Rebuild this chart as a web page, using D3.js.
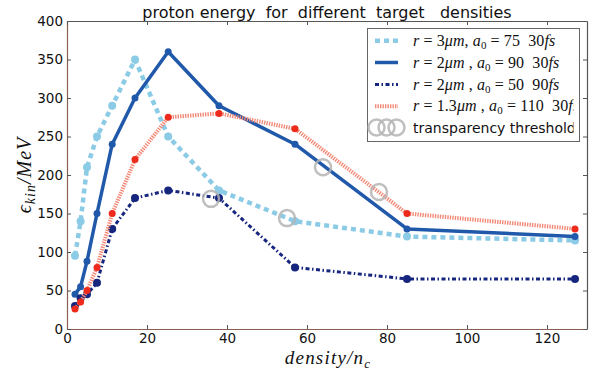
<!DOCTYPE html>
<html>
<head>
<meta charset="utf-8">
<script src="https://cdn.jsdelivr.net/npm/d3@7"></script>
<style>
  html, body { margin: 0; padding: 0; background: #fff; }
  svg text { white-space: pre; }
</style>
</head>
<body>
<svg id="chart" width="596" height="372"></svg>
<script>
// density of the target in units of the critical density
const densities = [2, 3.4, 5, 7.5, 11.3, 17, 25.3, 38, 57, 85, 127];

// maximum proton kinetic energy (MeV) for each laser / spot configuration
const r3_a75_30fs  = [95, 140, 210, 250, 290, 350, 250, 180, 140, 120, 115];
const r2_a90_30fs  = [45, 55, 88, 150, 240, 300, 360, 290, 240, 130, 120];
const r2_a50_90fs  = [30, 40, 45, 60, 130, 170, 180, 170, 80, 65, 65];
const r13_a110_30fs = [26, 35, 50, 80, 150, 220, 275, 280, 260, 150, 130];

// onset of relativistic transparency for each configuration
const thresholdDensity = [36, 55, 64, 78];
const thresholdEnergy  = [169, 144, 210, 178];

const xTicks = [0, 20, 40, 60, 80, 100, 120];
const yTicks = [0, 50, 100, 150, 200, 250, 300, 350, 400];

const titleText = "proton energy  for  different  target   densities";

const svg = d3.select("#chart");
const x = d3.scaleLinear().domain([0, 130]).range([67, 587]);
const y = d3.scaleLinear().domain([0, 400]).range([329, 21]);

// series definitions: data + style
const series = [
  { values: r3_a75_30fs, line: "#8ccbe6", marker: "#8ccbe6", width: 4.5, dash: "5,4", r: 4,
    label: [["r","i"],[" = ","n"],["3","n"],["μm","i"],[", ","n"],["a","i"],["0","s"],[" = ","n"],["75","n"],["  ","n"],["30","n"],["fs","i"]] },
  { values: r2_a90_30fs, line: "#2159aa", marker: "#2159aa", width: 3.5, dash: null, r: 3.5,
    label: [["r","i"],[" = ","n"],["2","n"],["μm","i"],[" , ","n"],["a","i"],["0","s"],[" = ","n"],["90","n"],["  ","n"],["30","n"],["fs","i"]] },
  { values: r2_a50_90fs, line: "#16267e", marker: "#16267e", width: 3, dash: "4,2.5,1.5,2.5", r: 4,
    label: [["r","i"],[" = ","n"],["2","n"],["μm","i"],[" , ","n"],["a","i"],["0","s"],[" = ","n"],["50","n"],["  ","n"],["90","n"],["fs","i"]] },
  { values: r13_a110_30fs, line: "#f38a78", marker: "#ee2a1c", width: 4, dash: "1.4,1.1", r: 3.5,
    label: [["r","i"],[" = ","n"],["1.3","n"],["μm","i"],[" , ","n"],["a","i"],["0","s"],[" = ","n"],["110","n"],["  ","n"],["30","n"],["fs","i"]] }
];

// axes (ticks pointing inward on all four sides)
const tickColor = "#555";
const axB = svg.append("g").attr("transform", `translate(0,${y(0)})`)
  .call(d3.axisBottom(x).tickValues(xTicks).tickSize(-4).tickSizeOuter(0).tickPadding(4));
const axL = svg.append("g").attr("transform", `translate(${x(0)},0)`)
  .call(d3.axisLeft(y).tickValues(yTicks).tickSize(-4).tickSizeOuter(0).tickPadding(4));
const axT = svg.append("g").attr("transform", `translate(0,${y(400)})`)
  .call(d3.axisTop(x).tickValues(xTicks).tickSize(-4).tickSizeOuter(0).tickFormat(""));
const axR = svg.append("g").attr("transform", `translate(${x(130)},0)`)
  .call(d3.axisRight(y).tickValues(yTicks).tickSize(-4).tickSizeOuter(0).tickFormat(""));

[axB, axL].forEach(a => {
  a.selectAll("text").attr("font-family", "DejaVu Sans").attr("font-size", 13.5).attr("fill", "#111");
  a.select(".domain").attr("stroke", "#8a6055").attr("stroke-width", 1.2);
});
[axT, axR].forEach(a => a.select(".domain").attr("stroke", "#5a5555").attr("stroke-width", 1.2));
[axB, axL, axT, axR].forEach(a => a.selectAll(".tick line").attr("stroke", tickColor));

// title
svg.append("text").attr("x", 327).attr("y", 18).attr("text-anchor", "middle")
  .attr("font-family", "DejaVu Sans").attr("font-size", 16).attr("fill", "#111")
  .text(titleText);

// axis labels (math style)
const xl = svg.append("text").attr("x", 328).attr("y", 364).attr("text-anchor", "middle")
  .attr("font-family", "Liberation Serif, DejaVu Serif").attr("font-size", 19).attr("font-style", "italic")
  .attr("letter-spacing", 1.2).attr("fill", "#111");
xl.append("tspan").text("density/n");
xl.append("tspan").attr("font-size", 13).attr("dy", 4).text("c");

const yl = svg.append("text").attr("transform", "translate(31,175) rotate(-90)").attr("text-anchor", "middle")
  .attr("font-family", "Liberation Serif, DejaVu Serif").attr("font-size", 20).attr("font-style", "italic")
  .attr("letter-spacing", 1).attr("fill", "#111");
yl.append("tspan").text("ϵ");
yl.append("tspan").attr("font-size", 14).attr("dy", 4).text("kin");
yl.append("tspan").attr("dy", -4).text("/MeV");

// data lines and markers
const line = d3.line().x((d, i) => x(densities[i])).y(d => y(d));
series.forEach(s => {
  svg.append("path").datum(s.values).attr("d", line)
    .attr("fill", "none").attr("stroke", s.line).attr("stroke-width", s.width)
    .attr("stroke-dasharray", s.dash).attr("stroke-linejoin", "round");
  svg.append("g").selectAll("circle").data(s.values).join("circle")
    .attr("cx", (d, i) => x(densities[i])).attr("cy", d => y(d))
    .attr("r", s.r).attr("fill", s.marker);
});

// transparency threshold markers
svg.append("g").selectAll("circle").data(thresholdEnergy).join("circle")
  .attr("cx", (d, i) => x(thresholdDensity[i])).attr("cy", d => y(d))
  .attr("r", 8).attr("fill", "none").attr("stroke", "#b4b4b4").attr("stroke-width", 2.5).attr("opacity", 0.85);

// legend
const lg = svg.append("g");
lg.append("rect").attr("x", 367.5).attr("y", 28.5).attr("width", 212).attr("height", 113)
  .attr("fill", "#fff").attr("stroke", "#666").attr("stroke-width", 1);
svg.append("clipPath").attr("id", "lgclip").append("rect")
  .attr("x", 367).attr("y", 28).attr("width", 206.5).attr("height", 114);
const rowY = [40.7, 62.5, 84.5, 106.3, 127.5];
series.forEach((s, k) => {
  lg.append("line").attr("x1", 375).attr("x2", 398).attr("y1", rowY[k]).attr("y2", rowY[k])
    .attr("stroke", s.line).attr("stroke-width", s.width).attr("stroke-dasharray", s.dash);
  const t = lg.append("text").attr("x", 413).attr("y", rowY[k] + 5)
    .attr("clip-path", "url(#lgclip)")
    .attr("font-family", "Liberation Serif, DejaVu Serif").attr("font-size", 16)
    .attr("letter-spacing", 0.1).attr("fill", "#111");
  s.label.forEach(([str, st]) => {
    const sp = t.append("tspan").text(str);
    if (st === "i") sp.attr("font-style", "italic");
    if (st === "s") sp.attr("font-size", 11).attr("dy", 3);
  });
  // undo subscript shift after the index
  t.selectAll("tspan").each(function(d, i, nodes) {
    if (i > 0 && d3.select(nodes[i - 1]).attr("dy") === "3") d3.select(this).attr("dy", -3);
  });
});
[376.5, 386.5, 396.5].forEach(cx => {
  lg.append("circle").attr("cx", cx).attr("cy", rowY[4]).attr("r", 8)
    .attr("fill", "none").attr("stroke", "#b4b4b4").attr("stroke-width", 2.5).attr("opacity", 0.85);
});
lg.append("text").attr("x", 413).attr("y", rowY[4] + 5).attr("clip-path", "url(#lgclip)")
  .attr("font-family", "DejaVu Sans").attr("font-size", 14).attr("fill", "#111")
  .text("transparency threshold");
</script>
</body>
</html>
